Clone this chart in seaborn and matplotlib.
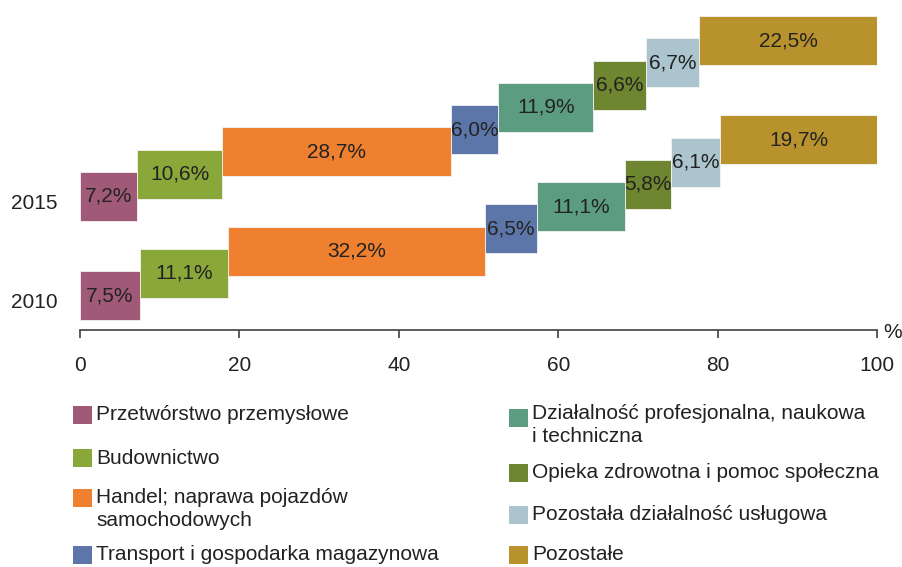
import matplotlib
matplotlib.use('Agg')
import matplotlib.pyplot as plt
import seaborn as sns
from matplotlib.patches import Rectangle

# ---- data ----
categories = ['Przetwórstwo przemysłowe', 'Budownictwo',
              'Handel; naprawa pojazdów\nsamochodowych',
              'Transport i gospodarka magazynowa',
              'Działalność profesjonalna, naukowa\ni techniczna',
              'Opieka zdrowotna i pomoc społeczna',
              'Pozostała działalność usługowa', 'Pozostałe']
years = ['2010', '2015']
values_2010 = [7.5, 11.1, 32.2, 6.5, 11.1, 5.8, 6.1, 19.7]
values_2015 = [7.2, 10.6, 28.7, 6.0, 11.9, 6.6, 6.7, 22.5]
colors = ['#A05A78', '#8AA83A', '#EE8030', '#5D76AA',
          '#5C9D82', '#6E8630', '#ACC4CE', '#B8922C']
x_ticks = [0, 20, 40, 60, 80, 100]

sns.set_theme(style='white')
plt.rcParams['font.family'] = ['Liberation Sans', 'DejaVu Sans']
TXT = '#222222'
FS = 15

W, H = 903, 567
fig = plt.figure(figsize=(W / 100, H / 100), dpi=100)
ax = fig.add_axes([80 / W, 1 - 330 / H, (877 - 80) / W, 330 / H])

year_base = {'2010': 0.0, '2015': 4.46}
bar_h = 2.2
for year, vals in zip(years, [values_2010, values_2015]):
    left = 0.0
    for i, (v, c) in enumerate(zip(vals, colors)):
        yc = year_base[year] + i
        ax.barh(yc, v, left=left, height=bar_h, color=c,
                edgecolor='#f3f3f3', linewidth=0.6)
        ax.text(left + v / 2, yc, f'{v:.1f}%'.replace('.', ','),
                ha='center', va='center', fontsize=FS, color=TXT)
        left += v

ax.set_xlim(0, 100)
ax.set_ylim(-1.547, 13.28)
ax.set_xticks(x_ticks)
ax.set_xticklabels([str(t) for t in x_ticks])
ax.set_yticks([year_base[y] - 0.22 for y in years])
ax.set_yticklabels(years)
for s in ['left', 'right', 'top']:
    ax.spines[s].set_visible(False)
ax.spines['bottom'].set_color('#404040')
ax.spines['bottom'].set_linewidth(1.2)
ax.tick_params(axis='x', direction='out', length=6, width=1.2,
               color='#404040', pad=13, labelsize=FS, labelcolor=TXT,
               bottom=True)
ax.tick_params(axis='y', length=0, pad=16, labelsize=FS, labelcolor=TXT)
ax.grid(False)

fig.text(893 / W, 1 - 333 / H, '%', ha='center', va='center',
         fontsize=FS, color=TXT)

# ---- legend (two columns) ----
left_items = [(0, 415, 415), (1, 458, 458), (2, 498, 509), (3, 555, 555)]
right_items = [(4, 418, 425), (5, 473, 473), (6, 515, 515), (7, 555, 555)]
for items, sx, tx in [(left_items, 73, 96), (right_items, 509, 532)]:
    for idx, sq_y, ty in items:
        fig.patches.append(Rectangle((sx / W, 1 - (sq_y + 9) / H), 19 / W, 18 / H,
                                     transform=fig.transFigure,
                                     facecolor=colors[idx], edgecolor='none'))
        fig.text(tx / W, 1 - ty / H, categories[idx], ha='left', va='center',
                 fontsize=FS, color=TXT, linespacing=1.3)

fig.savefig('out.png', dpi=100, facecolor='white')
